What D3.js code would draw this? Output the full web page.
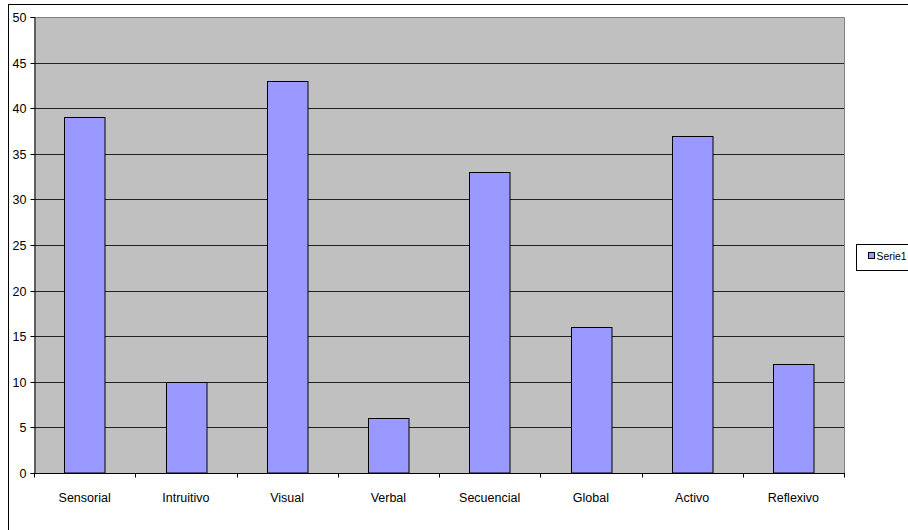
<!DOCTYPE html>
<html>
<head>
<meta charset="utf-8">
<script src="https://cdn.jsdelivr.net/npm/d3@7"></script>
<style>
  html, body { margin: 0; padding: 0; background: #fff; }
  svg { display: block; font-family: "Liberation Sans", Arial, sans-serif; }
</style>
</head>
<body>
<svg id="chart" width="908" height="530"></svg>
<script>
// Learning-style counts per category
const categories = ["Sensorial", "Intruitivo", "Visual", "Verbal", "Secuencial", "Global", "Activo", "Reflexivo"];
const serie1 = [39, 10, 43, 6, 33, 16, 37, 12];
const yTicks = [0, 5, 10, 15, 20, 25, 30, 35, 40, 45, 50];
const seriesName = "Serie1";

const svg = d3.select("#chart");

// Outer chart frame (runs off the right and bottom edges)
svg.append("rect")
  .attr("x", 8.5).attr("y", 4.5)
  .attr("width", 960).attr("height", 600)
  .attr("fill", "#fff").attr("stroke", "#000").attr("stroke-width", 1);

const plot = { left: 34, right: 844, top: 17, bottom: 473 };

const x = d3.scaleBand()
  .domain(categories)
  .range([plot.left, plot.right])
  .paddingInner(0.6).paddingOuter(0.3);

const xOuter = d3.scaleBand().domain(categories).range([plot.left, plot.right]);

const y = d3.scaleLinear().domain([0, 50]).range([plot.bottom, plot.top]);

// Plot area background
svg.append("rect")
  .attr("x", plot.left).attr("y", plot.top)
  .attr("width", plot.right - plot.left).attr("height", plot.bottom - plot.top)
  .attr("fill", "#c0c0c0");

// Plot area border (top and right, grey)
svg.append("path")
  .attr("d", `M${plot.left},${plot.top + 0.5}H${plot.right + 0.5}V${plot.bottom}`)
  .attr("fill", "none").attr("stroke", "#808080").attr("stroke-width", 1);

// Horizontal gridlines
svg.append("g")
  .selectAll("line")
  .data(yTicks.filter(d => d > 0 && d < 50))
  .join("line")
  .attr("x1", plot.left).attr("x2", plot.right)
  .attr("y1", d => Math.round(y(d)) + 0.5).attr("y2", d => Math.round(y(d)) + 0.5)
  .attr("stroke", "#222").attr("stroke-width", 1);

// Bars
svg.append("g")
  .selectAll("rect")
  .data(serie1)
  .join("rect")
  .attr("x", (d, i) => Math.round(x(categories[i])) + 0.5)
  .attr("y", d => Math.round(y(d)) + 0.5)
  .attr("width", x.bandwidth())
  .attr("height", d => plot.bottom - Math.round(y(d)) - 0.5)
  .attr("fill", "#9999ff")
  .attr("stroke", "#000").attr("stroke-width", 1);

// Y axis
const yAxis = d3.axisLeft(y).tickValues(yTicks).tickSize(4).tickPadding(4);
const gy = svg.append("g")
  .attr("transform", `translate(${plot.left + 0.5},0)`)
  .call(yAxis);
gy.select(".domain").attr("stroke", "#000");
gy.selectAll(".tick line").attr("stroke", "#000");
gy.selectAll(".tick text").attr("font-size", 12.5).attr("fill", "#000")
  .attr("font-family", "Liberation Sans, Arial, sans-serif");
gy.selectAll(".tick").attr("transform", d => `translate(0,${Math.round(y(d)) + 0.5})`);

// X axis: ticks between categories
const gx = svg.append("g").attr("transform", `translate(0,${plot.bottom + 0.5})`);
gx.append("line")
  .attr("x1", plot.left).attr("x2", plot.right + 1)
  .attr("stroke", "#000");
const boundaries = categories.map(c => xOuter(c)).concat([plot.right]);
gx.selectAll("line.tk")
  .data(boundaries)
  .join("line").attr("class", "tk")
  .attr("x1", d => Math.round(d) + 0.5).attr("x2", d => Math.round(d) + 0.5)
  .attr("y1", 0).attr("y2", 4)
  .attr("stroke", "#000");
gx.selectAll("text")
  .data(categories)
  .join("text")
  .attr("x", d => xOuter(d) + xOuter.bandwidth() / 2)
  .attr("y", 28)
  .attr("text-anchor", "middle")
  .attr("font-size", 12.5)
  .attr("fill", "#000")
  .text(d => d);

// Legend
const lg = svg.append("g");
lg.append("rect")
  .attr("x", 856.5).attr("y", 244.5).attr("width", 70).attr("height", 26)
  .attr("fill", "#fff").attr("stroke", "#000");
lg.append("rect")
  .attr("x", 868.5).attr("y", 252.5).attr("width", 6).attr("height", 6)
  .attr("fill", "#9999ff").attr("stroke", "#000");
lg.append("text")
  .attr("x", 876.5).attr("y", 259.5)
  .attr("font-size", 10.5).attr("fill", "#000")
  .attr("textLength", 30).attr("lengthAdjust", "spacingAndGlyphs")
  .text(seriesName);
</script>
</body>
</html>
